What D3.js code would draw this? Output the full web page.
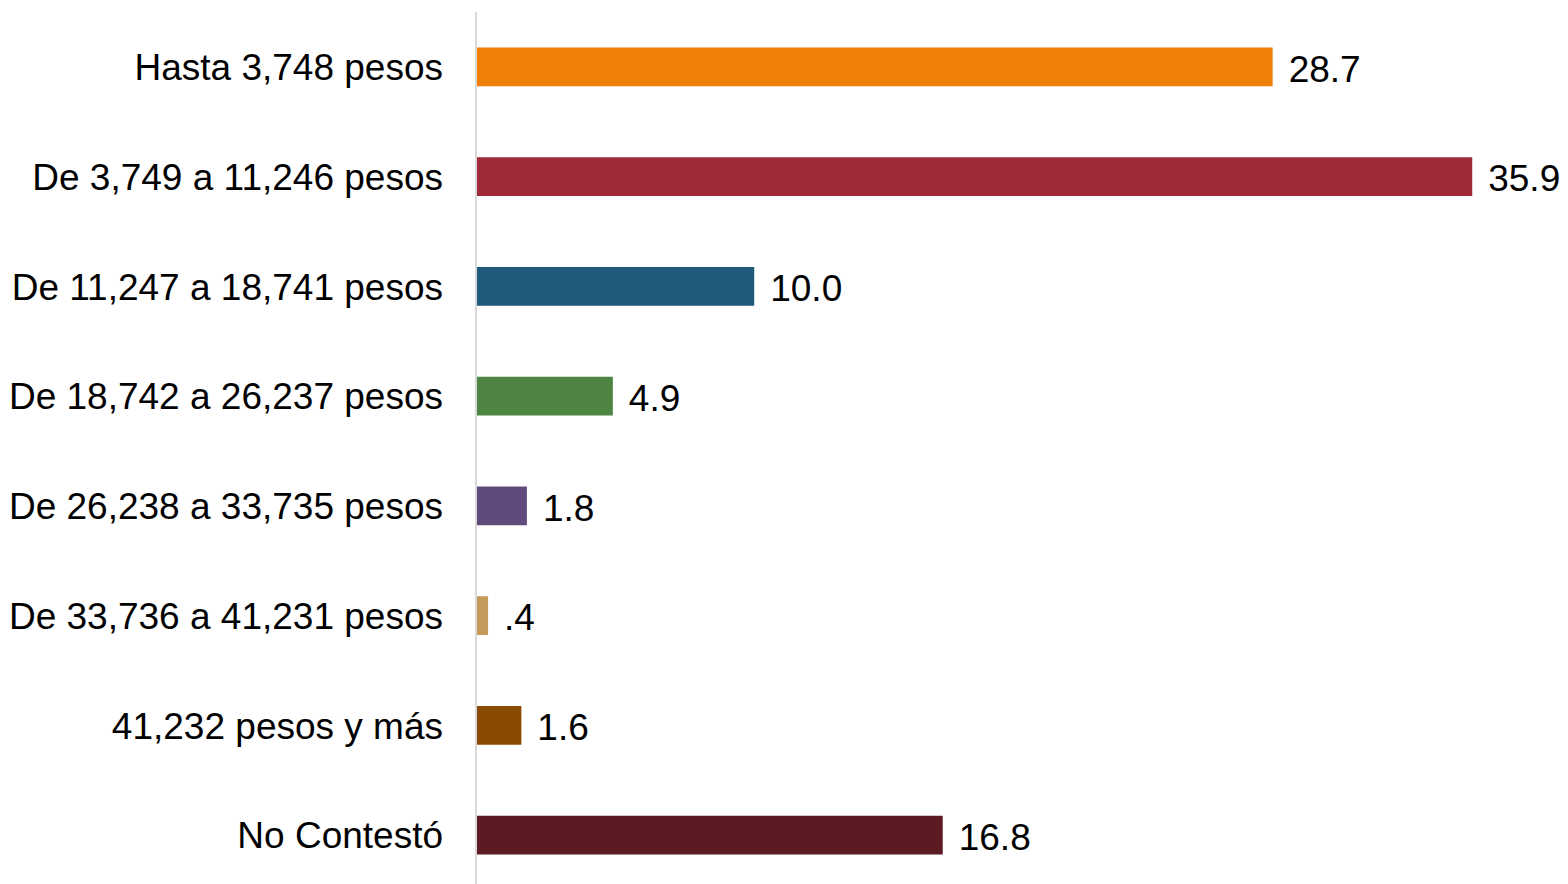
<html>
<head>
<meta charset="UTF-8">
<title>Ingreso mensual</title>
<style>
  body { margin: 0; background: #ffffff; }
  svg { display: block; font-family: "Liberation Sans", Arial, sans-serif; }
</style>
</head>
<body>
<svg id="chart" width="1568" height="884"></svg>
<script src="https://d3js.org/d3.v7.min.js"></script>
<script>
  // data
  var categories = [
    "Hasta 3,748 pesos",
    "De 3,749 a 11,246 pesos",
    "De 11,247 a 18,741 pesos",
    "De 18,742 a 26,237 pesos",
    "De 26,238 a 33,735 pesos",
    "De 33,736 a 41,231 pesos",
    "41,232 pesos y más",
    "No Contestó"
  ];
  var values = [28.7, 35.9, 10.0, 4.9, 1.8, 0.4, 1.6, 16.8];
  var valueLabels = ["28.7", "35.9", "10.0", "4.9", "1.8", ".4", "1.6", "16.8"];
  var colors = ["#f07f09", "#9f2936", "#1f5a7b", "#4e8542", "#604a7b", "#c49a5a", "#8b4a03", "#5c1a22"];

  var rows = categories.map(function(c, i) {
    return {cat: c, v: values[i], label: valueLabels[i], color: colors[i]};
  });

  var svg = d3.select("#chart");

  var x = d3.scaleLinear()
    .domain([0, 36])
    .range([477, 1475]);

  var y = d3.scaleBand()
    .domain(categories)
    .range([12, 890])
    .paddingInner(0.647)
    .paddingOuter(0.3235);

  // vertical axis line
  svg.append("line")
    .attr("x1", 476).attr("x2", 476)
    .attr("y1", 12).attr("y2", 884)
    .attr("stroke", "#d9d9d9")
    .attr("stroke-width", 2);

  svg.selectAll("rect.bar")
    .data(rows)
    .enter().append("rect")
    .attr("class", "bar")
    .attr("x", x(0))
    .attr("y", function(d) { return y(d.cat); })
    .attr("width", function(d) { return x(d.v) - x(0); })
    .attr("height", y.bandwidth())
    .attr("fill", function(d) { return d.color; });

  svg.selectAll("text.cat")
    .data(rows)
    .enter().append("text")
    .attr("class", "cat")
    .attr("x", 443)
    .attr("y", function(d) { return y(d.cat) + y.bandwidth() / 2; })
    .attr("dy", "0.36em")
    .attr("text-anchor", "end")
    .attr("font-size", 37)
    .attr("fill", "#000")
    .text(function(d) { return d.cat; });

  svg.selectAll("text.val")
    .data(rows)
    .enter().append("text")
    .attr("class", "val")
    .attr("x", function(d) { return x(d.v) + 16; })
    .attr("y", function(d) { return y(d.cat) + y.bandwidth() / 2; })
    .attr("dy", "0.4em")
    .attr("font-size", 37)
    .attr("fill", "#000")
    .text(function(d) { return d.label; });
</script>
</body>
</html>
